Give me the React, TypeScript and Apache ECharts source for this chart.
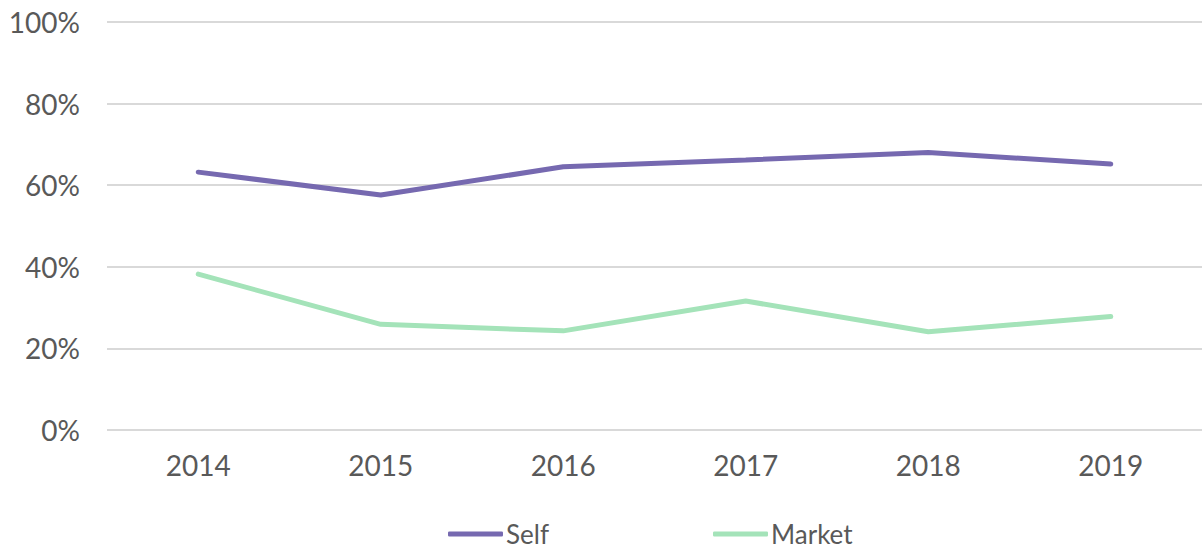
import React, { useEffect, useRef } from "react";
import * as echarts from "echarts";

const years = ["2014", "2015", "2016", "2017", "2018", "2019"];
const selfValues = [63.2, 57.6, 64.5, 66.2, 68.0, 65.2];
const marketValues = [38.2, 25.9, 24.3, 31.6, 24.1, 27.8];

const FONT = "Lato, 'Noto Sans', sans-serif";
const TEXT = "#595959";

export default function App() {
  const ref = useRef<HTMLDivElement>(null);
  useEffect(() => {
    if (!ref.current) return;
    const chart = echarts.init(ref.current, null, { renderer: "svg" });
    chart.setOption({
      animation: false,
      grid: { left: 107, top: 22, width: 1098, height: 408, containLabel: false },
      legend: {
        top: 516,
        left: 443,
        padding: [5, 5, 2, 5],
        itemWidth: 55,
        itemHeight: 5,
        itemGap: 164,
        icon: "roundRect",
        textStyle: {
          color: TEXT,
          fontSize: 26,
          lineHeight: 26,
          fontFamily: FONT,
          padding: [0, 0, 0, -2],
        },
        data: ["Self", "Market"],
      },
      xAxis: {
        type: "category",
        data: years,
        boundaryGap: true,
        axisLine: { show: false },
        axisTick: { show: false },
        axisLabel: { color: TEXT, fontSize: 28, fontFamily: FONT, margin: 21 },
      },
      yAxis: {
        type: "value",
        min: 0,
        max: 100,
        interval: 20,
        axisLine: { show: false },
        axisTick: { show: false },
        splitLine: { lineStyle: { color: "#d9d9d9", width: 2 } },
        axisLabel: {
          color: TEXT,
          fontSize: 28,
          fontFamily: FONT,
          margin: 27,
          formatter: (v: number) => v + "%",
        },
      },
      series: [
        {
          name: "Self",
          type: "line",
          data: selfValues,
          symbol: "none",
          lineStyle: { color: "#7669b0", width: 5, cap: "round" },
          itemStyle: { color: "#7669b0" },
        },
        {
          name: "Market",
          type: "line",
          data: marketValues,
          symbol: "none",
          lineStyle: { color: "#a4e3b9", width: 5, cap: "round" },
          itemStyle: { color: "#a4e3b9" },
        },
      ],
    });
    return () => chart.dispose();
  }, []);
  return (
    <div
      ref={ref}
      style={{ position: "fixed", left: 0, top: 0, width: 1202, height: 552, background: "#fff" }}
    />
  );
}
